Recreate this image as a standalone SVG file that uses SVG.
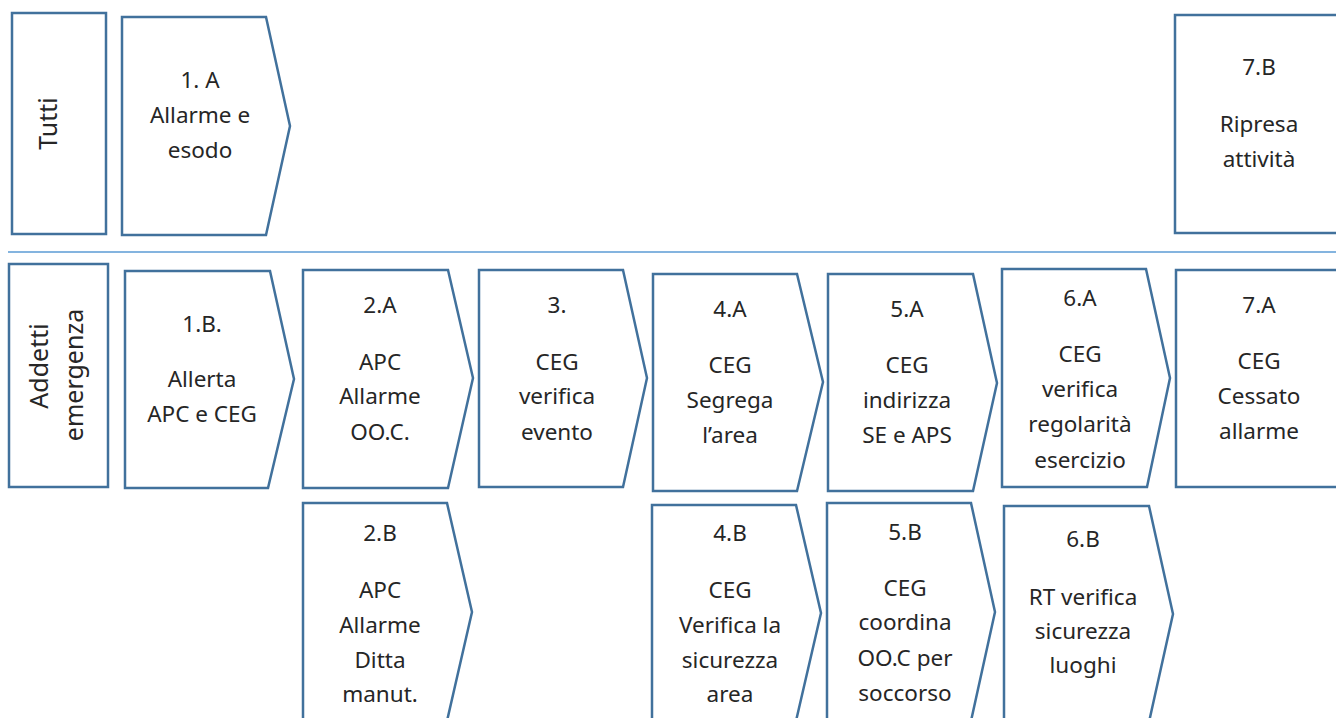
<svg xmlns="http://www.w3.org/2000/svg" width="1336" height="718" viewBox="0 0 1336 718">
<style>
.shape{fill:#fff;stroke:#41719c;stroke-width:2.5;stroke-linejoin:miter}
.t{font-family:"Noto Sans","Open Sans",sans-serif;font-size:22.5px;fill:#262626;text-anchor:middle}
.r{font-size:25px}
.sep{stroke:#5b9bd5;stroke-width:1.5}
</style>
<rect width="1336" height="718" fill="#fff"/>
<g id="connectors">
<line class="sep" x1="8" y1="252" x2="1336" y2="252"/>
</g>
<g id="lane-tutti">
<rect class="shape" x="12" y="13" width="94" height="221"/>
<text class="t r" x="57" y="123.5" transform="rotate(-90 57 123.5)">Tutti</text>
</g>
<g id="lane-addetti">
<rect class="shape" x="9" y="264" width="99" height="223"/>
<text class="t r" x="48" y="366" transform="rotate(-90 48 366)">Addetti</text>
<text class="t r" x="83" y="375" transform="rotate(-90 83 375)">emergenza</text>
</g>
<g id="n1A">
<path class="shape" d="M122,17 H266 L290,126 L266,235 H122 Z"/>
<text class="t" x="200" y="88">1. A</text>
<text class="t" x="200" y="123">Allarme e</text>
<text class="t" x="200" y="158">esodo</text>
</g>
<g id="n7B">
<rect class="shape" x="1175" y="15" width="200" height="218"/>
<text class="t" x="1259" y="75">7.B</text>
<text class="t" x="1259" y="132">Ripresa</text>
<text class="t" x="1259" y="167">attività</text>
</g>
<g id="n1B">
<path class="shape" d="M125,271 H270 L294,379 L268,488 H125 Z"/>
<text class="t" x="202" y="332">1.B.</text>
<text class="t" x="202" y="387">Allerta</text>
<text class="t" x="202" y="422">APC e CEG</text>
</g>
<g id="n2A">
<path class="shape" d="M303,270 H448 L473,378 L448,488 H303 Z"/>
<text class="t" x="380" y="313">2.A</text>
<text class="t" x="380" y="370">APC</text>
<text class="t" x="380" y="404">Allarme</text>
<text class="t" x="380" y="440">OO.C.</text>
</g>
<g id="n3">
<path class="shape" d="M479,270 H623 L647,378 L623,487 H479 Z"/>
<text class="t" x="557" y="313">3.</text>
<text class="t" x="557" y="370">CEG</text>
<text class="t" x="557" y="404">verifica</text>
<text class="t" x="557" y="440">evento</text>
</g>
<g id="n4A">
<path class="shape" d="M653,274 H797 L823,382 L797,491 H653 Z"/>
<text class="t" x="730" y="317">4.A</text>
<text class="t" x="730" y="373">CEG</text>
<text class="t" x="730" y="408">Segrega</text>
<text class="t" x="730" y="443">l’area</text>
</g>
<g id="n5A">
<path class="shape" d="M828,274 H973 L997,383 L973,491 H828 Z"/>
<text class="t" x="907" y="317">5.A</text>
<text class="t" x="907" y="373">CEG</text>
<text class="t" x="907" y="408">indirizza</text>
<text class="t" x="907" y="443">SE e APS</text>
</g>
<g id="n6A">
<path class="shape" d="M1002,269 H1146 L1170,378 L1147,487 H1002 Z"/>
<text class="t" x="1080" y="306">6.A</text>
<text class="t" x="1080" y="362">CEG</text>
<text class="t" x="1080" y="397">verifica</text>
<text class="t" x="1080" y="432">regolarità</text>
<text class="t" x="1080" y="468">esercizio</text>
</g>
<g id="n7A">
<rect class="shape" x="1176" y="270" width="200" height="217"/>
<text class="t" x="1259" y="313">7.A</text>
<text class="t" x="1259" y="369">CEG</text>
<text class="t" x="1259" y="404">Cessato</text>
<text class="t" x="1259" y="439">allarme</text>
</g>
<g id="n2B">
<path class="shape" d="M303,503 H447 L472,612 L447,721 H303 Z"/>
<text class="t" x="380" y="541">2.B</text>
<text class="t" x="380" y="598">APC</text>
<text class="t" x="380" y="633">Allarme</text>
<text class="t" x="380" y="668">Ditta</text>
<text class="t" x="380" y="702">manut.</text>
</g>
<g id="n4B">
<path class="shape" d="M652,505 H796 L821,613 L796,721 H652 Z"/>
<text class="t" x="730" y="541">4.B</text>
<text class="t" x="730" y="598">CEG</text>
<text class="t" x="730" y="633">Verifica la</text>
<text class="t" x="730" y="668">sicurezza</text>
<text class="t" x="730" y="702">area</text>
</g>
<g id="n5B">
<path class="shape" d="M827,503 H971 L995,612 L971,721 H827 Z"/>
<text class="t" x="905" y="540">5.B</text>
<text class="t" x="905" y="596">CEG</text>
<text class="t" x="905" y="630">coordina</text>
<text class="t" x="905" y="666">OO.C per</text>
<text class="t" x="905" y="701">soccorso</text>
</g>
<g id="n6B">
<path class="shape" d="M1004,506 H1149 L1173,614 L1149,722 H1004 Z"/>
<text class="t" x="1083" y="547">6.B</text>
<text class="t" x="1083" y="605">RT verifica</text>
<text class="t" x="1083" y="639">sicurezza</text>
<text class="t" x="1083" y="673">luoghi</text>
</g>
</svg>
